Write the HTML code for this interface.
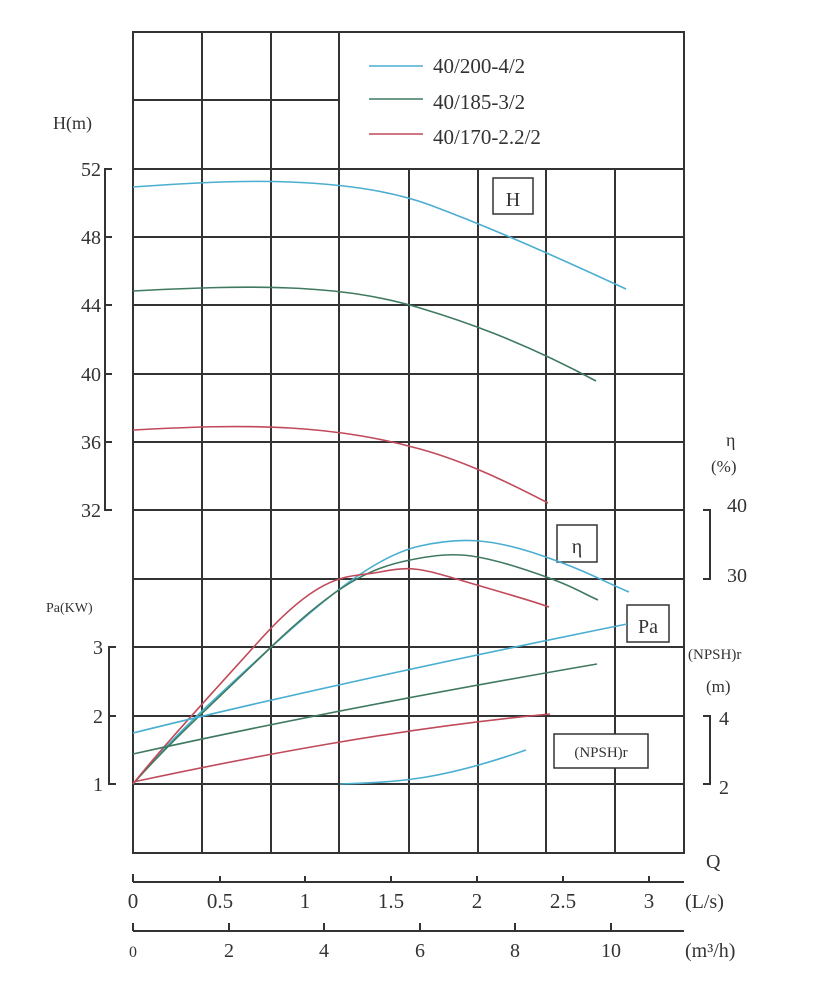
<!DOCTYPE html>
<html><head><meta charset="utf-8"><style>
body{margin:0;background:#fff}
svg{display:block}
text{font-family:"Liberation Serif","Noto Serif CJK SC",serif;fill:#333}
</style></head><body>
<svg width="821" height="1000" viewBox="0 0 821 1000" xmlns="http://www.w3.org/2000/svg">
<g stroke="#333" stroke-width="2" fill="none">
<rect x="133" y="32" width="551" height="821"/>
<path d="M202 32V853M271 32V853M339 32V853M409 169V853M478 169V853M546 169V853M615 169V853"/>
<path d="M133 100H339M133 169H684M133 237H684M133 305H684M133 374H684M133 442H684M133 510H684M133 579H684M133 647H684M133 716H684M133 784H684"/>
<!-- left brackets -->
<path d="M112 169H105V510H112M105 237H112M105 305H112M105 374H112M105 442H112"/>
<path d="M116 647H109V784H116M109 716H116"/>
<!-- right brackets -->
<path d="M703 510H710V579H703"/>
<path d="M703 716H710V784H703"/>
<!-- Q axes -->
<path d="M133 882H684M133 874V882M220 876V882M305 876V882M391 876V882M477 876V882M563 876V882M649 876V882"/>
<path d="M133 931H684M133 923V931M229 923V931M324 923V931M420 923V931M515 923V931M611 923V931"/>
</g>
<g fill="#fff" stroke="#333" stroke-width="1.5">
<rect x="493" y="178" width="40" height="36"/>
<rect x="557" y="525" width="40" height="37"/>
<rect x="627" y="605" width="42" height="37"/>
<rect x="554" y="734" width="94" height="34"/>
</g>
<g fill="none" stroke-width="1.6">
<!-- legend -->
<path d="M369 66H423" stroke="#4aaed0"/>
<path d="M369 99H423" stroke="#3f7a60"/>
<path d="M369 134H423" stroke="#c04a5a"/>
<!-- H curves -->
<path d="M133 187C190 183 240 180 290 182S390 190 430 205S520 240 626 289" stroke="#4aaed0"/>
<path d="M133 291C190 288 240 286 290 288S380 296 420 308S520 340 596 381" stroke="#3f7a60"/>
<path d="M133 430C190 427 240 425 290 428S380 438 420 449S500 478 548 503" stroke="#c04a5a"/>
<!-- eta -->
<path d="M133 784C170 740 200 712 268 650S380 555 420 546S490 538 540 555S600 580 629 592" stroke="#4aaed0"/>
<path d="M133 784C170 742 200 716 268 650S370 568 410 560S470 552 520 568S580 592 598 600" stroke="#3f7a60"/>
<path d="M133 784C160 750 195 712 260 640S350 578 380 572S420 568 460 580S530 600 549 607" stroke="#c04a5a"/>
<!-- Pa -->
<path d="M133 733C250 704 400 670 627 624" stroke="#4aaed0"/>
<path d="M133 754C250 728 400 698 597 664" stroke="#3f7a60"/>
<path d="M133 782C250 757 400 728 550 714" stroke="#c04a5a"/>
<!-- NPSH -->
<path d="M340 784C400 782 440 780 526 750" stroke="#4aaed0"/>
</g>
<g font-size="21">
<text x="433" y="73">40/200-4/2</text>
<text x="433" y="109">40/185-3/2</text>
<text x="433" y="144">40/170-2.2/2</text>
</g>
<g font-size="20" text-anchor="end">
<text x="101" y="176">52</text><text x="101" y="244">48</text><text x="101" y="312">44</text>
<text x="101" y="381">40</text><text x="101" y="449">36</text><text x="101" y="517">32</text>
<text x="103" y="654">3</text><text x="103" y="723">2</text><text x="103" y="791">1</text>
</g>
<text x="53" y="129" font-size="18">H(m)</text>
<text x="46" y="612" font-size="14">Pa(KW)</text>
<text x="513" y="206" font-size="20" text-anchor="middle">H</text>
<text x="577" y="553" font-size="20" text-anchor="middle">η</text>
<text x="648" y="633" font-size="20" text-anchor="middle">Pa</text>
<text x="601" y="757" font-size="15" text-anchor="middle">(NPSH)r</text>
<g font-size="20">
<text x="726" y="446" font-size="18">η</text>
<text x="711" y="472" font-size="17">(%)</text>
<text x="727" y="512">40</text><text x="727" y="582">30</text>
<text x="688" y="659" font-size="15">(NPSH)r</text>
<text x="706" y="692" font-size="17">(m)</text>
<text x="719" y="725">4</text><text x="719" y="794">2</text>
<text x="706" y="868">Q</text>
<text x="685" y="908">(L/s)</text>
<text x="685" y="957">(m³/h)</text>
</g>
<g font-size="21" text-anchor="middle">
<text x="133" y="908">0</text><text x="220" y="908">0.5</text><text x="305" y="908">1</text>
<text x="391" y="908">1.5</text><text x="477" y="908">2</text><text x="563" y="908">2.5</text><text x="649" y="908">3</text>
</g>
<g font-size="20" text-anchor="middle">
<text x="133" y="957" font-size="16">0</text><text x="229" y="957">2</text><text x="324" y="957">4</text>
<text x="420" y="957">6</text><text x="515" y="957">8</text><text x="611" y="957">10</text>
</g>
</svg>
</body></html>
